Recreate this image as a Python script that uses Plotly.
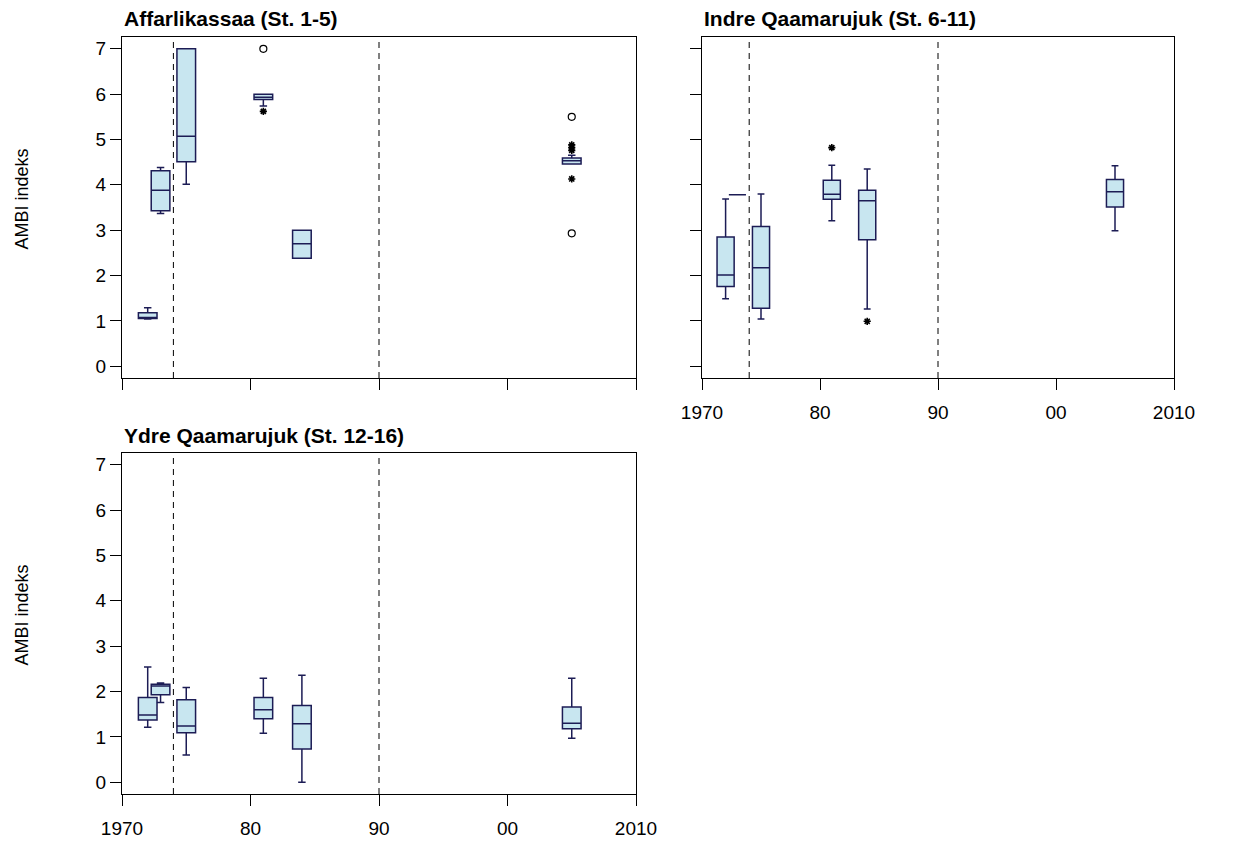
import plotly.graph_objects as go

W, H = 1251, 841

years = [1972, 1973, 1975, 1981, 1984, 2005]
period_breaks = [1974, 1990]

x_tick_vals = [1970, 1980, 1990, 2000, 2010]
x_tick_text = ["1970", "80", "90", "00", "2010"]
y_tick_vals = [0, 1, 2, 3, 4, 5, 6, 7]

titles = ["Affarlikassaa (St. 1-5)", "Indre Qaamarujuk (St. 6-11)", "Ydre Qaamarujuk (St. 12-16)"]
y_label = "AMBI indeks"

# Affarlikassaa
a_q1 = [1.05, 3.43, 4.51, 5.88, 2.38, 4.46]
a_med = [1.07, 3.88, 5.07, 5.93, 2.70, 4.53]
a_q3 = [1.18, 4.31, 7.00, 6.00, 3.00, 4.59]
a_lo = [1.04, 3.37, 4.01, 5.74, 2.38, 4.46]
a_hi = [1.29, 4.38, 7.00, 6.00, 3.00, 4.65]
a_circ_x = [1981, 2005, 2005]
a_circ_y = [7.00, 5.50, 2.93]
a_star_x = [1981, 2005, 2005, 2005, 2005]
a_star_y = [5.62, 4.76, 4.82, 4.88, 4.13]

# Indre Qaamarujuk
b_q1 = [1.76, 3.78, 1.28, 3.68, 2.79, 3.51]
b_med = [2.01, 3.78, 2.17, 3.79, 3.65, 3.85]
b_q3 = [2.85, 3.78, 3.08, 4.10, 3.88, 4.12]
b_lo = [1.49, 3.78, 1.04, 3.21, 1.26, 2.99]
b_hi = [3.69, 3.78, 3.80, 4.43, 4.35, 4.42]
b_circ_x = []
b_circ_y = []
b_star_x = [1981, 1984]
b_star_y = [4.82, 0.99]

# Ydre Qaamarujuk
c_q1 = [1.37, 1.93, 1.09, 1.40, 0.73, 1.18]
c_med = [1.48, 2.12, 1.24, 1.60, 1.29, 1.30]
c_q3 = [1.87, 2.16, 1.82, 1.87, 1.69, 1.66]
c_lo = [1.21, 1.76, 0.60, 1.08, 0.00, 0.97]
c_hi = [2.54, 2.19, 2.09, 2.29, 2.36, 2.29]
c_circ_x = []
c_circ_y = []
c_star_x = []
c_star_y = []

FONT = "Liberation Sans, Arial, Helvetica, sans-serif"
FILL = "#c8e6f0"
LINE = "#1c1c55"

# panel pixel boxes: (left, right, top, bottom)
panels_px = [(122, 636, 37, 378), (702, 1174, 37, 378), (122, 636, 453, 794)]

fig = go.Figure()

data_sets = [
    (a_q1, a_med, a_q3, a_lo, a_hi, a_circ_x, a_circ_y, a_star_x, a_star_y),
    (b_q1, b_med, b_q3, b_lo, b_hi, b_circ_x, b_circ_y, b_star_x, b_star_y),
    (c_q1, c_med, c_q3, c_lo, c_hi, c_circ_x, c_circ_y, c_star_x, c_star_y),
]

for i, (q1, med, q3, lo, hi, cx, cy, sx, sy) in enumerate(data_sets):
    n = "" if i == 0 else str(i + 1)
    xa, ya = "x" + n, "y" + n
    fig.add_trace(go.Box(
        x=years, q1=q1, median=med, q3=q3, lowerfence=lo, upperfence=hi,
        width=1.45, whiskerwidth=0.4, fillcolor=FILL,
        line=dict(color=LINE, width=1.5), boxpoints=False,
        xaxis=xa, yaxis=ya, showlegend=False, hoverinfo="skip",
    ))
    if cx:
        fig.add_trace(go.Scatter(
            x=cx, y=cy, mode="markers", xaxis=xa, yaxis=ya, showlegend=False,
            marker=dict(symbol="circle-open", size=7, color="black", line=dict(width=1.2)),
        ))
    if sx:
        fig.add_trace(go.Scatter(
            x=sx, y=sy, mode="markers", xaxis=xa, yaxis=ya, showlegend=False,
            marker=dict(symbol="asterisk-open", size=6, color="black", line=dict(width=1.6, color="black")),
        ))

layout = dict(
    template="none",
    width=W, height=H, margin=dict(l=0, r=0, t=0, b=0, pad=0), autosize=False,
    paper_bgcolor="white", plot_bgcolor="white",
    font=dict(family=FONT, size=19, color="black"),
    showlegend=False,
)

shapes = []
annotations = []
for i, (l, r, t, b) in enumerate(panels_px):
    n = "" if i == 0 else str(i + 1)
    xdom = [l / W, r / W]
    ydom = [(H - b) / H, (H - t) / H]
    layout["xaxis" + n] = dict(
        domain=xdom, range=[1970, 2010], anchor="y" + n, automargin=False,
        tickvals=x_tick_vals, ticktext=x_tick_text, showticklabels=(i != 0),
        ticks="outside", ticklen=11, tickwidth=1, tickcolor="black",
        showline=True, linecolor="black", linewidth=1, mirror=True,
        showgrid=False, zeroline=False, ticklabelstandoff=6,
        tickfont=dict(size=19),
    )
    layout["yaxis" + n] = dict(
        domain=ydom, range=[-0.26, 7.26], anchor="x" + n, automargin=False,
        tickvals=y_tick_vals, showticklabels=(i != 1),
        ticks="outside", ticklen=11, tickwidth=1, tickcolor="black",
        showline=True, linecolor="black", linewidth=1, mirror=True,
        showgrid=False, zeroline=False,
        tickfont=dict(size=19),
    )
    for xb in period_breaks:
        shapes.append(dict(
            type="line", xref="x" + n, yref="y" + n + " domain",
            x0=xb, x1=xb, y0=0, y1=1,
            line=dict(color="black", width=1, dash="6px,5px"),
        ))
    annotations.append(dict(
        text="<b>" + titles[i] + "</b>", xref="paper", yref="paper",
        x=l / W, y=1 - (t - 18) / H, xanchor="left", yanchor="middle",
        showarrow=False, font=dict(size=21, family=FONT),
    ))
    if i != 1:
        annotations.append(dict(
            text=y_label, xref="paper", yref="paper",
            x=21 / W, y=1 - ((t + b) / 2 - 8) / H, xanchor="center", yanchor="middle",
            textangle=-90, showarrow=False, font=dict(size=18, family=FONT),
        ))

layout["shapes"] = shapes
layout["annotations"] = annotations
fig.update_layout(**layout)
fig.write_html("out.html", config={"displayModeBar": False},
               post_script="document.body.style.margin='0';")
